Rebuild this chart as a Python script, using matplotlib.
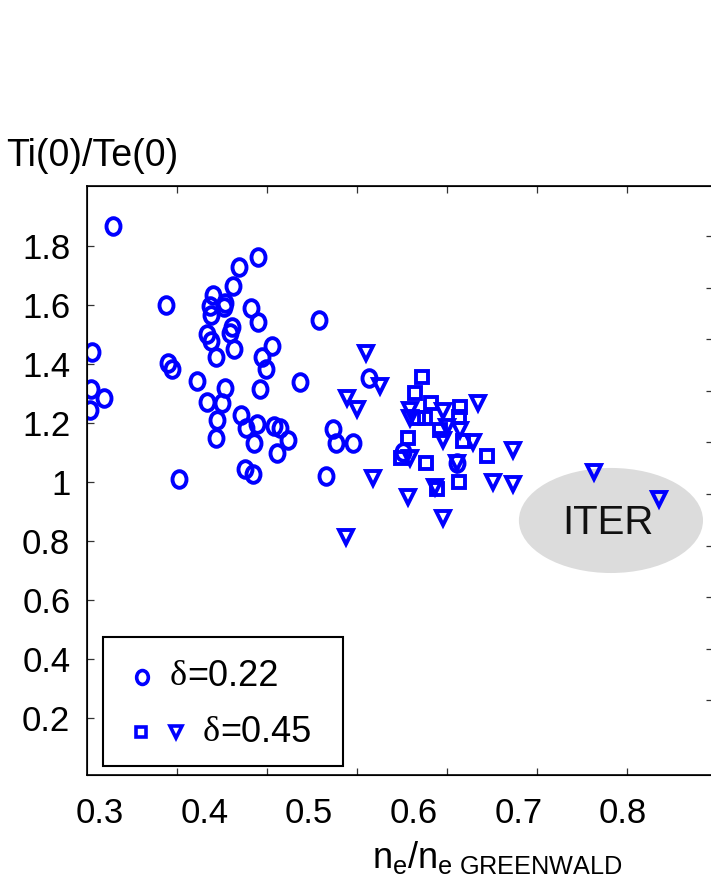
import numpy as np
import matplotlib
matplotlib.use("Agg")
import matplotlib.pyplot as plt
from matplotlib.path import Path
from matplotlib.patches import Ellipse, Rectangle
from matplotlib.markers import MarkerStyle

plt.rcParams['font.family'] = ['Liberation Sans', 'DejaVu Sans']
plt.rcParams['mathtext.fontset'] = 'custom'
plt.rcParams['mathtext.rm'] = 'Liberation Sans'
plt.rcParams['mathtext.it'] = 'Liberation Sans'

# delta = 0.22 (circles)
circ_x = [0.312, 0.451, 0.433, 0.427, 0.408, 0.363, 0.405, 0.420, 0.419, 0.406,
          0.444, 0.451, 0.509, 0.426, 0.424, 0.402, 0.406, 0.428, 0.411, 0.292,
          0.464, 0.455, 0.459, 0.365, 0.369, 0.393, 0.491, 0.291, 0.304, 0.290,
          0.420, 0.453, 0.402, 0.417, 0.435, 0.440, 0.450, 0.412, 0.466, 0.472,
          0.480, 0.411, 0.447, 0.469, 0.523, 0.526, 0.542, 0.439, 0.446, 0.376,
          0.516, 0.557, 0.590, 0.641]
circ_y = [1.869, 1.764, 1.728, 1.664, 1.634, 1.600, 1.597, 1.608, 1.594, 1.566,
          1.590, 1.541, 1.549, 1.526, 1.504, 1.502, 1.478, 1.450, 1.425, 1.442,
          1.461, 1.425, 1.383, 1.402, 1.382, 1.343, 1.338, 1.315, 1.284, 1.244,
          1.320, 1.314, 1.272, 1.267, 1.226, 1.184, 1.197, 1.210, 1.190, 1.182,
          1.142, 1.150, 1.131, 1.097, 1.180, 1.133, 1.131, 1.043, 1.026, 1.009,
          1.020, 1.354, 1.103, 1.063]

# delta = 0.45 (squares)
sq_x = [0.608, 0.601, 0.616, 0.644, 0.604, 0.611, 0.643, 0.625, 0.647, 0.594,
        0.588, 0.612, 0.670, 0.622, 0.643]
sq_y = [1.357, 1.303, 1.267, 1.253, 1.216, 1.216, 1.219, 1.176, 1.139, 1.148,
        1.082, 1.063, 1.088, 0.975, 0.999]

# delta = 0.45 (triangles)
tri_x = [0.554, 0.568, 0.536, 0.546, 0.596, 0.628, 0.661, 0.596, 0.632, 0.644,
         0.628, 0.657, 0.695, 0.596, 0.641, 0.620, 0.676, 0.695, 0.561, 0.594,
         0.628, 0.535, 0.772, 0.834]
tri_y = [1.436, 1.325, 1.284, 1.247, 1.244, 1.241, 1.267, 1.217, 1.186, 1.176,
         1.142, 1.137, 1.108, 1.080, 1.063, 0.984, 1.001, 0.993, 1.013, 0.950,
         0.877, 0.815, 1.035, 0.941]

x_labels = ["0.3", "0.4", "0.5", "0.6", "0.7", "0.8"]
y_labels = ["0.2", "0.4", "0.6", "0.8", "1", "1.2", "1.4", "1.6", "1.8"]

blue = (0, 0, 1)

# slightly tall ellipse for the circle marker
uc = Path.unit_circle()
oval = Path(uc.vertices * np.array([0.84, 1.0]), uc.codes)
tri = MarkerStyle('v', joinstyle='miter')

fig = plt.figure(figsize=(7.11, 8.83), dpi=100)
ax = fig.add_axes([87 / 711, 108 / 883, 625 / 711, 589 / 883])

ax.plot(circ_x, circ_y, linestyle='none', marker=oval, ms=12, mew=2.8,
        mfc='none', mec=blue)
ax.plot(sq_x, sq_y, linestyle='none', marker='s', ms=8.4, mew=2.8,
        mfc='none', mec=blue)
ax.plot(tri_x, tri_y, linestyle='none', marker=tri,
        ms=9.5, mew=2.8, mfc='none', mec=blue)

# ITER region
ax.add_patch(Ellipse((0.7885, 0.8695), 0.176, 0.356, facecolor='#dcdcdc',
                     edgecolor='none', zorder=0))
ax.text(0.7855, 0.862, "ITER", fontsize=29, ha='center', va='center', color='#111111')

ax.set_xlim(0.2876, 0.8851)
ax.set_ylim(0.007, 2.003)

# labels and tick marks do not line up in the original figure
ax.set_xticks([0.3, 0.4, 0.5, 0.6, 0.7, 0.8])
ax.set_xticklabels(x_labels)
ax.set_xticks(0.3736 + 0.0860 * np.arange(6), minor=True)
ax.set_yticks([0.2, 0.4, 0.6, 0.8, 1.0, 1.2, 1.4, 1.6, 1.8])
ax.set_yticklabels(y_labels)
ax.tick_params(axis='x', which='major', length=0, pad=16, labelsize=25)
ax.tick_params(axis='x', which='minor', length=5, width=0.9, direction='in',
               top=True, bottom=True, color='#333333')
ax.tick_params(axis='y', which='major', length=5, width=0.9, direction='in',
               left=True, right=False, pad=12, labelsize=25, color='#333333')
for s in ax.spines.values():
    s.set_linewidth(1.2)

# right side ticks with their own spacing
ax2 = ax.twinx()
ax2.set_ylim(108, 697)
ax2.set_yticks([883 - v for v in 236 + 51.6 * np.arange(10)])
ax2.set_yticklabels([])
ax2.tick_params(axis='y', length=4, width=0.9, direction='in', color='#333333')

# legend drawn by hand
ax.add_patch(Rectangle((0.0256, 0.0153), 0.384, 0.219, transform=ax.transAxes,
                       facecolor='white', edgecolor='black', lw=1.5, zorder=5))
ax.plot([0.088], [0.1664], transform=ax.transAxes, marker=oval, ms=10, mew=2.6,
        mfc='none', mec=blue, zorder=6)
ax.plot([0.0864], [0.073], transform=ax.transAxes, marker='s', ms=7.2, mew=2.6,
        mfc='none', mec=blue, zorder=6)
ax.plot([0.1424], [0.073], transform=ax.transAxes, marker=tri, ms=8.5, mew=2.6,
        mfc='none', mec=blue, zorder=6)
for xt, yt, val in [(0.1328, 0.1664, "=0.22"), (0.1856, 0.073, "=0.45")]:
    ax.text(xt, yt, "\u03b4", transform=ax.transAxes, fontsize=26,
            family='Liberation Serif', va='center', ha='left', zorder=7)
    ax.text(xt + 0.027, yt, val, transform=ax.transAxes, fontsize=26,
            va='center', ha='left', zorder=7)

fig.text(6 / 711, 1 - 166 / 883, "Ti(0)/Te(0)", fontsize=27, va='baseline')
fig.text(372 / 711, 1 - 868 / 883, r"$\mathregular{n_e/n_{e\ GREENWALD}}$",
         fontsize=26, va='baseline')

fig.savefig("out.png", dpi=100)
